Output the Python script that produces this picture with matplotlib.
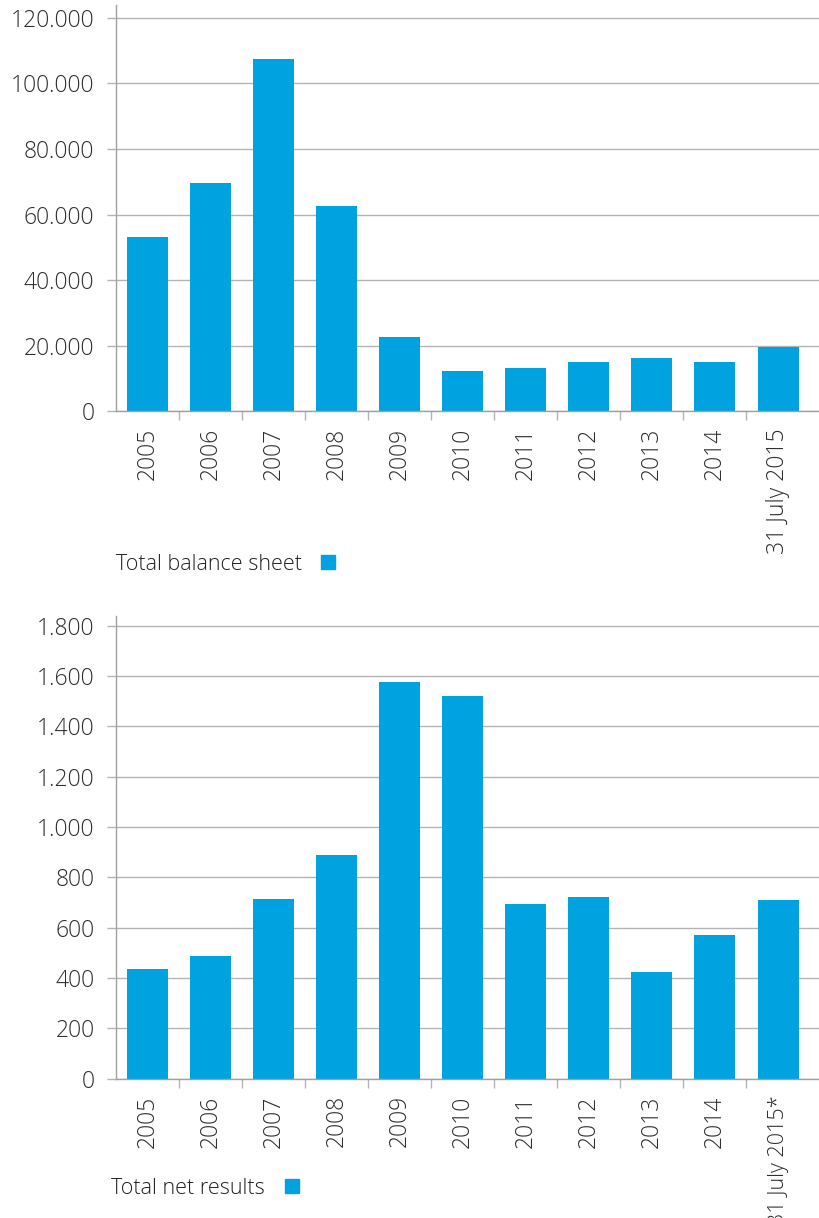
import matplotlib
matplotlib.use("Agg")
import matplotlib.pyplot as plt
from matplotlib.patches import Patch
from matplotlib.ticker import FuncFormatter, FixedLocator

plt.rcParams['font.family'] = ['Open Sans', 'DejaVu Sans']
plt.rcParams['font.weight'] = 'light'

years = ["2005", "2006", "2007", "2008", "2009", "2010",
         "2011", "2012", "2013", "2014"]
labels_balance = years + ["31 July 2015"]
labels_results = years + ["31 July 2015*"]

# values in EUR million
balance_sheet = [53200, 69700, 107500, 62600, 22700, 12200,
                 13200, 15000, 16200, 15000, 19600]
net_results = [436, 487, 714, 889, 1574, 1522,
               695, 722, 424, 571, 711]

bar_color = "#00a3df"
grid_color = "#b4b4b4"
text_color = "#2e2e2e"
fs = 16.5
legend_fs = 15.5


def dotted_thousands(v, pos=None):
    return f"{v:,.0f}".replace(",", ".")


def style_axes(ax, labels, ymax, step):
    n = len(labels)
    ax.set_xlim(-0.5, n - 0.35)
    ax.set_ylim(0, ymax)
    ax.set_yticks(range(0, int(ymax) + 1, step))
    ax.yaxis.set_major_formatter(FuncFormatter(dotted_thousands))
    ax.set_xticks(range(n))
    ax.set_xticklabels(labels, rotation=90, va="top", ha="center")
    ax.xaxis.set_minor_locator(FixedLocator([i + 0.5 for i in range(n - 1)]))
    ax.tick_params(axis="x", which="major", length=0, pad=12,
                   labelsize=fs, labelcolor=text_color)
    ax.tick_params(axis="x", which="minor", length=6.5, width=1.0,
                   color=grid_color)
    ax.tick_params(axis="y", length=6.5, width=1.0, color=grid_color,
                   pad=9, labelsize=fs, labelcolor=text_color)
    ax.grid(axis="y", color=grid_color, linewidth=1.0)
    ax.set_axisbelow(True)
    for s in ("top", "right"):
        ax.spines[s].set_visible(False)
    for s in ("left", "bottom"):
        ax.spines[s].set_color("#a0a0a0")
        ax.spines[s].set_linewidth(1.0)


fig = plt.figure(figsize=(8.19, 12.18), dpi=100)

# total balance sheet
ax1 = fig.add_axes([116 / 819, 806.7 / 1218, 703 / 819, 406.6 / 1218])
ax1.bar(range(len(balance_sheet)), balance_sheet, width=0.65,
        color=bar_color)
style_axes(ax1, labels_balance, 124000, 20000)
ax1.legend(handles=[Patch(color=bar_color, label="Total balance sheet")],
           loc="center left", bbox_to_anchor=(116.5 / 819, 1 - 564 / 1218),
           bbox_transform=fig.transFigure, frameon=False, markerfirst=False,
           borderpad=0, borderaxespad=0, handlelength=0.68, handleheight=0.68,
           handletextpad=0.85, fontsize=legend_fs, labelcolor="#222222")

# total net results
ax2 = fig.add_axes([116 / 819, 139.3 / 1218, 703 / 819, 462.7 / 1218])
ax2.bar(range(len(net_results)), net_results, width=0.65, color=bar_color)
style_axes(ax2, labels_results, 1838, 200)
# the long last label runs off the bottom, keep it a touch smaller
last = ax2.get_xticklabels()[-1]
last.set_fontsize(15.5)
ax2.legend(handles=[Patch(color=bar_color, label="Total net results")],
           loc="center left", bbox_to_anchor=(111.5 / 819, 1 - 1188 / 1218),
           bbox_transform=fig.transFigure, frameon=False, markerfirst=False,
           borderpad=0, borderaxespad=0, handlelength=0.68, handleheight=0.68,
           handletextpad=0.9, fontsize=legend_fs, labelcolor="#222222")

fig.savefig("out.png", dpi=100)
